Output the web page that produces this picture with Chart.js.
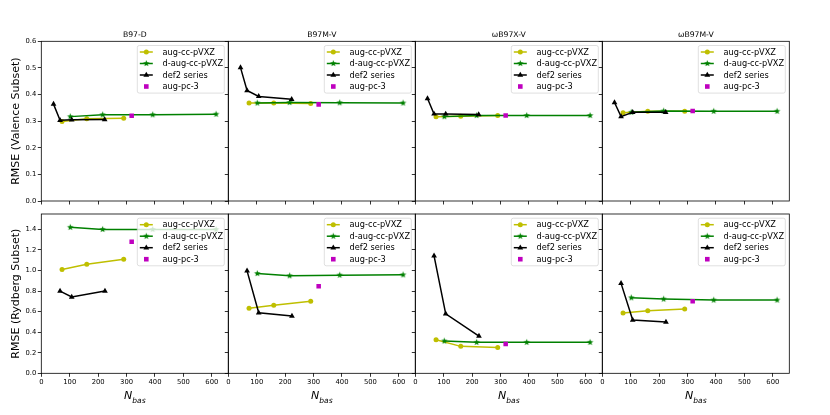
<!DOCTYPE html>
<html>
<head>
<meta charset="utf-8">
<script src="https://cdn.jsdelivr.net/npm/chart.js@4.4.0/dist/chart.umd.min.js"></script>
<style>
  body { margin: 0; background: #fff; }
  #fig { position: relative; width: 830px; height: 415px; }
  #fig canvas { position: absolute; left: 0; top: 0; }
</style>
</head>
<body>
<div id="fig"></div>
<script>
// ---- data ----
const functionals = ['B97-D', 'B97M-V', 'ωB97X-V', 'ωB97M-V'];
const seriesNames = ['aug-cc-pVXZ', 'd-aug-cc-pVXZ', 'def2 series', 'aug-pc-3'];
const rowLabels = ['RMSE (Valence Subset)', 'RMSE (Rydberg Subset)'];

const nbasAug = [73, 160, 290];
const nbasDAug = [102, 216, 392, 615];
const nbasDef2Valence = [43, 66, 107, 223];
const nbasDef2Rydberg = [66, 107, 224];
const nbasPc3 = [318];

const augValence = [[0.299, 0.309, 0.311], [0.368, 0.368, 0.366], [0.317, 0.318, 0.321], [0.332, 0.337, 0.337]];
const dAugValence = [[0.317, 0.324, 0.324, 0.326], [0.368, 0.370, 0.369, 0.368], [0.317, 0.321, 0.321, 0.321], [0.333, 0.338, 0.337, 0.337]];
const def2Valence = [[0.364, 0.303, 0.305, 0.306], [0.501, 0.415, 0.393, 0.382], [0.385, 0.327, 0.327, 0.325], [0.370, 0.317, 0.333, 0.333]];
const pc3Valence = [0.320, 0.363, 0.321, 0.338];

const augRydberg = [[1.01, 1.06, 1.11], [0.632, 0.661, 0.700], [0.327, 0.262, 0.252], [0.586, 0.608, 0.625]];
const dAugRydberg = [[1.42, 1.40, 1.40, 1.40], [0.971, 0.949, 0.955, 0.958], [0.314, 0.301, 0.301, 0.301], [0.735, 0.722, 0.712, 0.712]];
const def2Rydberg = [[0.80, 0.742, 0.80], [0.997, 0.589, 0.557], [1.143, 0.579, 0.362], [0.875, 0.518, 0.499]];
const pc3Rydberg = [1.28, 0.848, 0.285, 0.70];

const yMax = [0.6, 1.55];
const yStep = [0.1, 0.2];

// ---- layout of the 2x4 grid (pixels) ----
const FIG_W = 830, FIG_H = 415;
const colLeft = [41.3, 228.3, 415.3, 602.3];
const colWidth = 187;
const rowTop = [41.3, 214];
const rowBottom = [201, 373.3];

const FONT = 'DejaVu Sans';
const colors = { aug: '#bfbf00', dAug: '#008000', def2: '#000000', pc3: '#bf00bf' };

// filled five-point star, like matplotlib's '*'
function makeStar(color, r) {
  const c = document.createElement('canvas');
  const s = Math.ceil(r * 2 + 2);
  c.width = s; c.height = s;
  const g = c.getContext('2d');
  g.fillStyle = color;
  g.beginPath();
  for (let i = 0; i < 10; i++) {
    const rad = i % 2 === 0 ? r : r * 0.42;
    const ang = -Math.PI / 2 + i * Math.PI / 5;
    g.lineTo(s / 2 + rad * Math.cos(ang), s / 2 + rad * Math.sin(ang));
  }
  g.closePath();
  g.fill();
  return c;
}
const starImg = makeStar(colors.dAug, 3.4);

function drawMarker(ctx, kind, color, x, y) {
  ctx.fillStyle = color;
  ctx.beginPath();
  if (kind === 'circle') {
    ctx.arc(x, y, 2.5, 0, Math.PI * 2);
    ctx.fill();
  } else if (kind === 'star') {
    ctx.drawImage(starImg, x - starImg.width / 2, y - starImg.height / 2);
  } else if (kind === 'triangle') {
    ctx.moveTo(x, y - 3.3);
    ctx.lineTo(x + 2.9, y + 1.7);
    ctx.lineTo(x - 2.9, y + 1.7);
    ctx.closePath();
    ctx.fill();
  } else if (kind === 'rect') {
    ctx.fillRect(x - 2.3, y - 2.3, 4.6, 4.6);
  }
}

const legendItems = [
  { label: seriesNames[0], color: colors.aug, marker: 'circle', line: true },
  { label: seriesNames[1], color: colors.dAug, marker: 'star', line: true },
  { label: seriesNames[2], color: colors.def2, marker: 'triangle', line: true },
  { label: seriesNames[3], color: colors.pc3, marker: 'rect', line: false }
];

const panelDecor = {
  id: 'panelDecor',
  afterDatasetsDraw(chart, args, opts) {
    const { ctx, chartArea: a } = chart;
    ctx.save();
    // frame
    ctx.strokeStyle = '#000';
    ctx.lineWidth = 0.8;
    ctx.strokeRect(a.left, a.top, a.right - a.left, a.bottom - a.top);

    // legend box in the upper right
    const bw = 87, bh = 47.6;
    const bx = a.right - 4 - bw, by = a.top + 4.2;
    ctx.fillStyle = 'rgba(255,255,255,0.8)';
    ctx.strokeStyle = 'rgba(204,204,204,0.8)';
    ctx.lineWidth = 0.8;
    ctx.beginPath();
    ctx.roundRect(bx, by, bw, bh, 2);
    ctx.fill();
    ctx.stroke();
    ctx.font = '8.2px "' + FONT + '"';
    ctx.textBaseline = 'middle';
    legendItems.forEach((it, i) => {
      const yy = by + 6.5 + i * 11.5;
      if (it.line) {
        ctx.strokeStyle = it.color;
        ctx.lineWidth = 1.5;
        ctx.beginPath();
        ctx.moveTo(bx + 2.5, yy);
        ctx.lineTo(bx + 15.5, yy);
        ctx.stroke();
      }
      drawMarker(ctx, it.marker, it.color, bx + 9, yy);
      ctx.fillStyle = '#000';
      ctx.textAlign = 'left';
      ctx.fillText(it.label, bx + 25.3, yy + 0.5);
    });
    ctx.restore();
  },
  afterDraw(chart, args, opts) {
    const { ctx, chartArea: a } = chart;
    const cx = (a.left + a.right) / 2;
    ctx.save();
    ctx.fillStyle = '#000';
    if (opts.title) {
      ctx.font = '7.7px "' + FONT + '"';
      ctx.textAlign = 'center';
      ctx.textBaseline = 'alphabetic';
      ctx.fillText(opts.title, cx, a.top - 4.5);
    }
    if (opts.xLabel) {
      ctx.textAlign = 'left';
      ctx.textBaseline = 'alphabetic';
      ctx.font = 'italic 11px "' + FONT + '"';
      const wN = ctx.measureText('N').width;
      ctx.font = 'italic 7.5px "' + FONT + '"';
      const wSub = ctx.measureText('bas').width;
      const x0 = cx - (wN + wSub) / 2;
      ctx.font = 'italic 11px "' + FONT + '"';
      ctx.fillText('N', x0, a.bottom + 26);
      ctx.font = 'italic 7.5px "' + FONT + '"';
      ctx.fillText('bas', x0 + wN, a.bottom + 29.2);
    }
    ctx.restore();
  }
};

function toPoints(xs, ys) {
  return xs.map((x, i) => ({ x: x, y: ys[i] }));
}

function makePanel(row, col) {
  const canvas = document.createElement('canvas');
  canvas.width = FIG_W;
  canvas.height = FIG_H;
  canvas.style.width = FIG_W + 'px';
  canvas.style.height = FIG_H + 'px';
  document.getElementById('fig').appendChild(canvas);

  const aug = row === 0 ? augValence[col] : augRydberg[col];
  const dAug = row === 0 ? dAugValence[col] : dAugRydberg[col];
  const def2 = row === 0 ? def2Valence[col] : def2Rydberg[col];
  const pc3 = row === 0 ? pc3Valence[col] : pc3Rydberg[col];
  const nbasDef2 = row === 0 ? nbasDef2Valence : nbasDef2Rydberg;

  const left = colLeft[col], right = left + colWidth;
  const top = rowTop[row], bottom = rowBottom[row];
  const yW = col === 0 ? 33 : 4;
  const xH = row === 1 ? 16 : 4;

  const tickFont = { family: FONT, size: 6.8 };
  const tickGrid = { display: true, drawOnChartArea: false, drawTicks: true, tickLength: 3.5, color: '#000', lineWidth: 0.8 };

  return new Chart(canvas, {
    type: 'line',
    data: {
      datasets: [
        {
          label: seriesNames[0], data: toPoints(nbasAug, aug), order: 4,
          borderColor: colors.aug, backgroundColor: colors.aug, borderWidth: 1.5,
          pointStyle: 'circle', pointRadius: 2.5, pointBorderWidth: 0
        },
        {
          label: seriesNames[1], data: toPoints(nbasDAug, dAug), order: 3,
          borderColor: colors.dAug, backgroundColor: colors.dAug, borderWidth: 1.5,
          pointStyle: starImg, pointRadius: 3
        },
        {
          label: seriesNames[2], data: toPoints(nbasDef2, def2), order: 2,
          borderColor: colors.def2, backgroundColor: colors.def2, borderWidth: 1.5,
          pointStyle: 'triangle', pointRadius: 3.3, pointBorderWidth: 0
        },
        {
          label: seriesNames[3], data: toPoints(nbasPc3, [pc3]), order: 1,
          borderColor: colors.pc3, backgroundColor: colors.pc3, showLine: false,
          pointStyle: 'rect', pointRadius: 3.2, pointBorderWidth: 0
        }
      ]
    },
    options: {
      responsive: false,
      animation: false,
      events: [],
      layout: {
        padding: { left: left - yW, right: FIG_W - right, top: top, bottom: FIG_H - bottom - xH }
      },
      elements: { line: { tension: 0 } },
      scales: {
        x: {
          type: 'linear', min: 0, max: 658,
          afterFit: (s) => { s.height = xH; },
          ticks: {
            display: row === 1, stepSize: 100, includeBounds: false, autoSkip: false,
            maxRotation: 0, padding: 1.5, color: '#000', font: tickFont
          },
          grid: tickGrid,
          border: { display: false }
        },
        y: {
          type: 'linear', min: 0, max: yMax[row],
          afterFit: (s) => { s.width = yW; },
          ticks: {
            display: col === 0, stepSize: yStep[row], includeBounds: false, autoSkip: false,
            padding: 1.5, color: '#000', font: tickFont,
            callback: (v) => Number(v).toFixed(1)
          },
          grid: tickGrid,
          border: { display: false },
          title: {
            display: col === 0, text: rowLabels[row], color: '#000',
            font: { family: FONT, size: 11 }, padding: { top: 1, bottom: 0 }
          }
        }
      },
      plugins: {
        legend: { display: false },
        tooltip: { enabled: false },
        panelDecor: { title: row === 0 ? functionals[col] : null, xLabel: row === 1 }
      }
    },
    plugins: [panelDecor]
  });
}

for (let r = 0; r < 2; r++) {
  for (let c = 0; c < 4; c++) {
    makePanel(r, c);
  }
}
</script>
</body>
</html>
